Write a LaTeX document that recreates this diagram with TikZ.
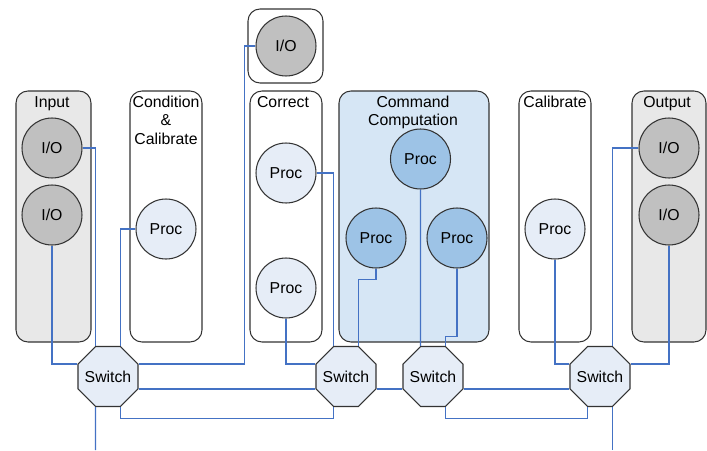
\documentclass[tikz,border=0pt]{standalone}
\usepackage{fontspec}
\setmainfont{Liberation Sans}
\usetikzlibrary{shapes.geometric,calc}

\definecolor{boxgray}{HTML}{E8E8E8}
\definecolor{iogray}{HTML}{C0C0C0}
\definecolor{proclight}{HTML}{E6EDF7}
\definecolor{cmdblue}{HTML}{D6E6F5}
\definecolor{procblue}{HTML}{9DC3E6}
\definecolor{wire}{HTML}{4472C4}
\definecolor{edge}{HTML}{333333}

\begin{document}
\begin{tikzpicture}[x=0.02cm, y=-0.02cm,
  font=\fontsize{9pt}{10.3pt}\selectfont,
  group/.style={draw=edge, line width=0.6pt, rounded corners=0.24cm},
  unit/.style={circle, draw=edge, line width=0.6pt, minimum size=1.2cm, inner sep=0pt},
  io/.style={unit, fill=iogray},
  proc/.style={unit, fill=proclight},
  cproc/.style={unit, fill=procblue},
  switch/.style={regular polygon, regular polygon sides=8, draw=edge, line width=0.6pt,
    fill=proclight, minimum size=1.3cm, inner sep=0pt},
  lbl/.style={align=center, inner sep=0pt, anchor=north},
  link/.style={draw=wire, line width=0.6pt}
]

  % Fix the page (pixel grid, y going down)
  \useasboundingbox (0,0) rectangle (707,450);

  % Half of one side of a switch
  \def\h{12.5}

  % The single I/O on top
  \draw[group] (248,9) rectangle (323,83);
  \node[io] (topio) at (286,46) {I/O};

  % Input column
  \draw[group, fill=boxgray] (16,91) rectangle (91,342);
  \node[lbl] (inlbl) at (52,96) {Input};
  \node[io] (in1) at (52,148) {I/O};
  \node[io] (in2) at (52,215) {I/O};

  % Condition & Calibrate column
  \draw[group] (130,91) rectangle (202,342);
  \node[lbl] (condlbl) at (166,96) {Condition\\\&\\Calibrate};
  \node[proc] (cond) at (166,229) {Proc};

  % Correct column
  \draw[group] (250,91) rectangle (322,342);
  \node[lbl] (corrlbl) at (283,96) {Correct};
  \node[proc] (corr1) at (286,173) {Proc};
  \node[proc] (corr2) at (286,288) {Proc};

  % Command Computation column
  \draw[group, fill=cmdblue] (339,91) rectangle (489,342);
  \node[lbl] (cmdlbl) at (413,96) {Command\\Computation};
  \node[cproc] (cmdtop) at (420.5,159) {Proc};
  \node[cproc] (cmdleft) at (376,238) {Proc};
  \node[cproc] (cmdright) at (457,238) {Proc};

  % Calibrate column
  \draw[group] (519,91) rectangle (591,342);
  \node[lbl] (callbl) at (555,96) {Calibrate};
  \node[proc] (cal) at (555,229) {Proc};

  % Output column
  \draw[group, fill=boxgray] (632,91) rectangle (706,342);
  \node[lbl] (outlbl) at (667,96) {Output};
  \node[io] (out1) at (669,148) {I/O};
  \node[io] (out2) at (669,215) {I/O};

  % The four switches (text kept out of the size)
  \node[switch] (sw1) at (108,376.5) {\makebox[0pt]{Switch}};
  \node[switch] (sw2) at (346,376.5) {\makebox[0pt]{Switch}};
  \node[switch] (sw3) at (433,376.5) {\makebox[0pt]{Switch}};
  \node[switch] (sw4) at (600,376.5) {\makebox[0pt]{Switch}};

  % Free ends at the bottom
  \coordinate (down1) at (95.5,450);
  \coordinate (down4) at (612.5,450);

  % Links of switch 1
  \draw[link] (in1.east) -| ($(sw1.north)+(-\h,0)$);
  \draw[link] (in2.south) |- ($(sw1.west)+(0,-\h)$);
  \draw[link] (cond.west) -| ($(sw1.north)+(\h,0)$);
  \draw[link] ($(sw1.east)+(0,-\h)$) -| ($(topio.west)+(-11,0)$) -- (topio.west);
  \draw[link] ($(sw1.east)+(0,\h)$) -- ($(sw2.west)+(0,\h)$);
  \draw[link] ($(sw1.south)+(\h,0)$) -- ++(0,11) -| ($(sw2.south)+(-\h,0)$);
  \draw[link] ($(sw1.south)+(-\h,0)$) -- (down1);

  % Links of switch 2
  \draw[link] (corr1.east) -| ($(sw2.north)+(-\h,0)$);
  \draw[link] (corr2.south) |- ($(sw2.west)+(0,-\h)$);
  \draw[link] (cmdleft.south) -- ++(0,11) -| ($(sw2.north)+(\h,0)$);
  \draw[link] ($(sw2.east)+(0,\h)$) -- ($(sw3.west)+(0,\h)$);

  % Links of switch 3
  \draw[link] (cmdtop.south) -- ($(sw3.north)+(-\h,0)$);
  \draw[link] (cmdright.south) -- ++(0,68) -| ($(sw3.north)+(\h,0)$);
  \draw[link] ($(sw3.east)+(0,\h)$) -- ($(sw4.west)+(0,\h)$);
  \draw[link] ($(sw3.south)+(\h,0)$) -- ++(0,11) -| ($(sw4.south)+(-\h,0)$);

  % Links of switch 4
  \draw[link] (cal.south) |- ($(sw4.west)+(0,-\h)$);
  \draw[link] (out1.west) -| ($(sw4.north)+(\h,0)$);
  \draw[link] (out2.south) |- ($(sw4.east)+(0,-\h)$);
  \draw[link] ($(sw4.south)+(\h,0)$) -- (down4);

\end{tikzpicture}
\end{document}
